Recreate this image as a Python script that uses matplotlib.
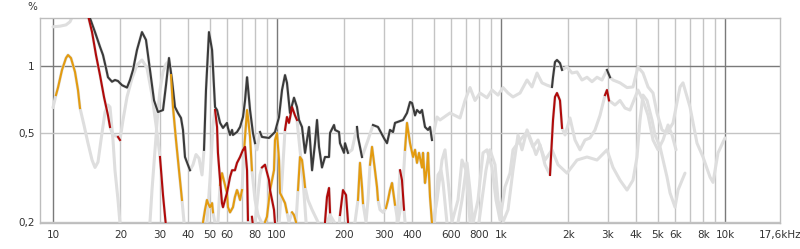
import numpy as np
import matplotlib
matplotlib.use("Agg")
import matplotlib.pyplot as plt

# ---------------- data ----------------
thd_f = [10.0, 10.75, 11.43, 11.91, 12.28, 13.2, 14.33, 14.63, 15.4, 16.21, 16.72, 17.24, 17.6, 18.34, 18.91,
         19.51, 20.32, 21.4, 22.07, 22.76, 23.71, 24.96, 26.01, 27.1, 28.25, 29.43, 30.98, 31.95, 32.95, 33.98,
         35.04, 36.14, 37.28, 38.05, 38.84, 40.89, 42.17, 43.5, 44.86, 46.27, 47.23, 48.2, 49.7, 51.3, 52.9,
         54.0, 55.7, 57.4, 59.8, 60.4, 61.7, 63.0, 63.6, 66.3, 68.4, 70.5, 72.0, 73.5, 74.2, 75.8, 78.1, 79.8,
         81.4, 84.0, 85.7, 92.1, 95.0, 97.97, 102.1, 105.3, 108.6, 110.8, 114.3, 119.1, 122.8, 125.4, 129.3,
         133.4, 139.0, 140.4, 143.4, 147.8, 150.9, 154.0, 158.8, 163.8, 170.7, 172.5, 179.7, 181.6, 189.2,
         191.1, 199.2, 201.2, 207.5, 216.2, 227.6, 229.9, 239.6, 254.9, 268.3, 282.4, 303.5, 309.8, 319.5,
         329.6, 336.4, 365.2, 380.5, 392.6, 400.8, 413.3, 421.7, 434.9, 444.0, 457.9, 472.2, 482.0, 492.0,
         518.0, 534.2, 592.1, 656.2, 690.7, 727.1, 765.5, 806.0, 865.9, 911.5, 969.6, 1021, 1075, 1131, 1216,
         1307, 1375, 1448, 1524, 1605, 1689, 1707, 1742, 1778, 1834, 1873, 1971, 2075, 2185, 2299, 2421, 2548,
         2683, 2824, 2973, 3066, 3162, 3398, 3652, 3884, 4089, 4305, 4534, 4772, 4971, 5233, 5509, 5861, 6298,
         6494, 6979, 7499, 7976, 8570, 8841, 9307, 10000]
thd_v = [1.50, 1.51, 1.53, 1.58, 1.69, 2.2, 1.88, 1.64, 1.42, 1.22, 1.12, 0.98, 0.89, 0.85, 0.865,
         0.856, 0.82, 0.80, 0.865, 0.96, 1.18, 1.42, 1.31, 0.96, 0.70, 0.621, 0.634, 0.82, 1.086, 0.865,
         0.654, 0.615, 0.584, 0.516, 0.39, 0.34, 0.36, 0.40, 0.385, 0.324, 0.42, 0.78, 1.42, 1.18, 0.654,
         0.634, 0.555, 0.527, 0.555, 0.527, 0.49, 0.516, 0.49, 0.505, 0.532, 0.59, 0.70, 0.89, 0.805, 0.634, 0.50, 0.45,
         0.42, 0.505, 0.48, 0.475, 0.49, 0.505, 0.59, 0.78, 0.91, 0.84, 0.615, 0.72, 0.654, 0.572, 0.532,
         0.407, 0.532, 0.465, 0.34, 0.45, 0.572, 0.433, 0.35, 0.39, 0.39, 0.50, 0.543, 0.516, 0.505,
         0.45, 0.407, 0.45, 0.407, 0.42, 0.532, 0.48, 0.39, 0.465, 0.543, 0.532, 0.465, 0.45, 0.516,
         0.505, 0.555, 0.572, 0.615, 0.689, 0.682, 0.60, 0.634, 0.615, 0.634, 0.532, 0.516, 0.532, 0.465,
         0.59, 0.572, 0.615, 0.584, 0.70, 0.80, 0.70, 0.756, 0.72, 0.78, 0.74, 0.80, 0.756, 0.726, 0.756,
         0.865, 0.805, 0.93, 0.84, 0.82, 0.805, 0.89, 1.042, 1.064, 1.03, 0.96, 0.99, 0.93, 0.94, 0.865, 0.89, 0.85,
         0.89, 0.865, 0.96, 0.89, 0.865, 0.84, 0.80, 0.805, 0.99, 0.93, 0.805, 0.756, 0.615, 0.516, 0.50, 0.555, 0.805,
         0.84, 0.654, 0.45, 0.39, 0.317, 0.30, 0.407, 0.475]
thd_on = [(14.33, 40.89), (47.23, 79.8), (84.0, 207.5), (227.6, 239.6), (268.3, 492.0),
          (1689, 1873), (2900, 3066)]

h2_f = [10.0, 10.31, 10.53, 10.97, 11.43, 11.67, 12.03, 12.54, 12.93, 13.2, 13.75, 14.33, 14.94, 15.4, 15.88,
        16.38, 17.07, 17.6, 17.97, 18.53, 18.91, 19.51, 19.91, 20.54, 26.56, 27.1, 27.67, 28.54, 29.43, 30.04,
        30.98, 31.95, 32.61, 33.63, 34.33, 35.41, 36.52, 37.66, 38.45, 39.25, 45.33, 46.75, 47.72, 48.7, 49.2,
        50.2, 51.3, 51.8, 52.9, 54.5, 55.7, 56.8, 57.4, 59.8, 60.4, 61.7, 63.6, 64.9, 66.3, 67.0, 68.4, 69.8,
        71.3, 73.5, 74.2, 75.8, 77.3, 79.8, 82.3, 85.7, 88.4, 90.2, 93.1, 96.96, 97.97, 100, 102.1, 103.1,
        105.3, 108.6, 110.8, 113.1, 116.7, 119.1, 121.6, 124.1, 126.7, 129.3, 132.0, 133.4, 137.5, 143.4,
        152.4, 158.8, 172.5, 181.6, 201.2, 223.0, 229.9, 234.7, 239.6, 242.1, 249.7, 254.9, 260.2, 265.6,
        273.8, 279.5, 282.4, 288.3, 297.3, 306.6, 313.0, 319.5, 326.2, 336.4, 346.9, 361.4, 372.8, 380.5,
        392.6, 404.9, 413.3, 421.7, 430.5, 444.0, 448.6, 457.9, 467.4, 472.2, 482.0, 492.0, 500, 523.4,
        539.8, 551.0, 574.1, 623.3, 669.8, 705.1, 727.1, 749.9, 789.4, 831.1, 865.9, 911.5, 950, 989.8,
        1042, 1097, 1131, 1216, 1307, 1389, 1463, 1572, 1689, 1797, 1971, 2185, 2421, 2683, 2973, 3162,
        3398, 3652, 3884, 4047, 4174, 4305, 4487, 4722, 4870, 5127, 5509, 5683, 5983, 6170, 6628]
h2_v = [0.65, 0.74, 0.80, 0.96, 1.086, 1.12, 1.086, 0.94, 0.78, 0.647, 0.543, 0.45, 0.378, 0.35, 0.37,
        0.465, 0.621, 0.668, 0.654, 0.465, 0.34, 0.25, 0.196, 0.15, 0.15, 0.199, 0.277, 0.42, 0.634, 0.78,
        0.94, 1.02, 1.042, 0.91, 0.654, 0.465, 0.34, 0.25, 0.199, 0.15, 0.15, 0.199, 0.226, 0.25, 0.242,
        0.232, 0.242, 0.22, 0.196, 0.199, 0.292, 0.33, 0.317, 0.269, 0.232, 0.22, 0.232, 0.258, 0.277, 0.269, 0.25, 0.277,
        0.42, 0.634, 0.59, 0.48, 0.34, 0.25, 0.214, 0.196, 0.199, 0.21, 0.277, 0.34, 0.465, 0.50, 0.378, 0.269,
        0.258, 0.242, 0.22, 0.199, 0.22, 0.214, 0.199, 0.277, 0.39, 0.378, 0.317, 0.286, 0.25, 0.226,
        0.199, 0.175, 0.214, 0.196, 0.166, 0.199, 0.25, 0.367, 0.286, 0.242, 0.199, 0.25, 0.36, 0.433,
        0.34, 0.286, 0.25, 0.226, 0.22, 0.23, 0.25, 0.277, 0.298, 0.238, 0.199, 0.25, 0.42, 0.555,
        0.45, 0.39, 0.42, 0.367, 0.407, 0.35, 0.407, 0.298, 0.35, 0.407, 0.258, 0.197, 0.175, 0.324,
        0.34, 0.30, 0.196, 0.166, 0.25, 0.367, 0.277, 0.196, 0.25, 0.407, 0.42, 0.35, 0.25, 0.203,
        0.286, 0.33, 0.42, 0.465, 0.505, 0.433, 0.465, 0.378, 0.42, 0.36, 0.33, 0.378, 0.39, 0.378, 0.42, 0.35,
        0.307, 0.277, 0.307, 0.39, 0.572, 0.74, 0.70, 0.572, 0.49, 0.433, 0.317, 0.269, 0.232, 0.277, 0.33]
h2_on = [(10.31, 13.2), (33.63, 37.66), (46.75, 51.8), (55.7, 69.8), (71.3, 77.3), (88.4, 110.8),
         (116.7, 121.6), (124.1, 133.4), (229.9, 242.1), (260.2, 282.4), (306.6, 336.4), (372.8, 492.0)]

h3_f = [10.0, 13.2, 14.04, 14.33, 14.94, 15.56, 16.21, 16.89, 17.6, 17.97, 18.53, 19.51, 19.91, 20.54, 21.4,
        22.53, 23.71, 24.96, 26.28, 27.67, 28.84, 30.04, 30.98, 31.95, 32.95, 46.75, 48.7, 50.2, 51.8, 52.9,
        54.0, 54.5, 55.7, 56.8, 57.4, 59.8, 61.7, 63.0, 64.9, 66.3, 68.4, 70.5, 72.0, 73.5, 74.2, 75.8, 77.3,
        78.9, 81.4, 84.0, 85.7, 88.4, 92.1, 93.1, 96.96, 97.97, 101.0, 105.3, 108.6, 110.8, 113.1, 114.3,
        116.7, 120.3, 122.8, 126.7, 130.7, 134.8, 140.4, 158.8, 163.8, 167.2, 170.7, 172.5, 176.1, 187.3,
        191.1, 197.1, 203.3, 207.5, 216.2, 336.4, 343.4, 354.2, 361.4, 369.0, 376.7, 482, 518.0, 545.4,
        562.3, 586.0, 604.4, 642.7, 669.8, 697.9, 727.1, 789.4, 857.0, 893.0, 940.2, 969.6, 1021, 1075,
        1131, 1191, 1241, 1307, 1361, 1433, 1494, 1572, 1655, 1707, 1742, 1778, 1834, 1873, 1931, 2032,
        2140, 2253, 2371, 2496, 2628, 2767, 2913, 2973, 3035, 3228, 3398, 3578, 3766, 4089, 4305, 4534,
        4772, 5022, 5287, 5567, 5801, 6044]
h3_v = [2.7, 2.3, 1.98, 1.69, 1.42, 1.12, 0.91, 0.726, 0.60, 0.532, 0.49, 0.48, 0.465, 0.572, 0.726,
        0.88, 1.01, 1.064, 0.98, 0.74, 0.543, 0.39, 0.263, 0.19, 0.15, 0.15, 0.199, 0.307, 0.543, 0.634,
        0.532, 0.407, 0.307, 0.242, 0.232, 0.269, 0.317, 0.34, 0.34, 0.367, 0.39, 0.42, 0.433, 0.34, 0.203, 0.175, 0.21,
        0.175, 0.238, 0.324, 0.35, 0.36, 0.307, 0.277, 0.226, 0.197, 0.166, 0.307, 0.516, 0.59, 0.555, 0.584,
        0.654, 0.60, 0.572, 0.42, 0.307, 0.199, 0.166, 0.166, 0.199, 0.258, 0.283, 0.22, 0.166, 0.166,
        0.214, 0.277, 0.263, 0.199, 0.166, 0.166, 0.199, 0.34, 0.307, 0.226, 0.175, 0.166, 0.25, 0.378,
        0.42, 0.277, 0.199, 0.25, 0.378, 0.34, 0.199, 0.185, 0.34, 0.42, 0.36, 0.25, 0.199, 0.226,
        0.34, 0.49, 0.42, 0.516, 0.465, 0.40, 0.442, 0.36, 0.324, 0.572, 0.726, 0.756, 0.70, 0.527, 0.49, 0.584,
        0.465, 0.42, 0.465, 0.475, 0.516, 0.60, 0.74, 0.78, 0.70, 0.668, 0.70, 0.647, 0.634, 0.78, 0.70, 0.60,
        0.465, 0.42, 0.465, 0.543, 0.49, 0.42]
h3_on = [(14.33, 17.97), (19.51, 19.91), (30.04, 31.95), (52.9, 74.2), (77.3, 78.9), (85.7, 97.97),
         (108.6, 122.8), (163.8, 172.5), (191.1, 207.5), (354.2, 369.0), (1655, 1873), (2913, 3035)]

x_ticks = [10, 20, 30, 40, 50, 60, 80, 100, 200, 300, 400, 600, 800, 1000, 2000, 3000, 4000, 5000,
           6000, 8000, 10000, 17600]
x_labels = ["10", "20", "30", "40", "50", "60", "80", "100", "200", "300", "400", "600", "800", "1k",
            "2k", "3k", "4k", "5k", "6k", "8k", "10k", "17,6kHz"]
y_ticks = [0.2, 0.5, 1]
y_labels = ["0,2", "0,5", "1"]

series = [
    (thd_f, thd_v, thd_on, "#3a3a3a"),
    (h2_f, h2_v, h2_on, "#e39b0f"),
    (h3_f, h3_v, h3_on, "#b00a0a"),
]

# ---------------- figure ----------------
fig = plt.figure(figsize=(8.0, 2.49), dpi=100)
ax = fig.add_axes([0.05, 0.1044, 0.925, 0.8233])
ax.set_xscale("log")
ax.set_yscale("log")
ax.set_xlim(8.75, 17600)
ax.set_ylim(0.197, 1.643)

# grid
for dec in [10, 100, 1000]:
    for m in range(2, 10):
        ax.axvline(dec * m, color="#c4c4c4", lw=1.0, zorder=1)
for dec in [10, 100, 1000, 10000]:
    ax.axvline(dec, color="#7a7a7a", lw=1.0, zorder=1)
ax.axhline(1.0, color="#7a7a7a", lw=1.0, zorder=1)
ax.axhline(0.5, color="#c4c4c4", lw=1.0, zorder=1)
ax.axhline(0.2, color="#c4c4c4", lw=1.0, zorder=1)

# gray (full) curves
for f, v, on, col in series:
    ax.plot(f, v, color="#dedede", lw=2.2, solid_capstyle="round", solid_joinstyle="round", zorder=2)

# colored segments
for f, v, on, col in series:
    fa = np.asarray(f, float)
    va = np.asarray(v, float)
    for lo, hi in on:
        m = (fa >= lo * 0.999) & (fa <= hi * 1.001)
        ax.plot(fa[m], va[m], color=col, lw=1.5, solid_joinstyle="round", zorder=3)

for s in ax.spines.values():
    s.set_color("#bdbdbd")
    s.set_linewidth(1.0)

ax.xaxis.set_minor_locator(matplotlib.ticker.NullLocator())
ax.yaxis.set_minor_locator(matplotlib.ticker.NullLocator())
ax.set_xticks(x_ticks)
ax.set_xticklabels(x_labels)
ax.set_yticks(y_ticks)
ax.set_yticklabels(y_labels)
ax.tick_params(axis="both", length=0, labelsize=7.5, colors="#333333")
ax.tick_params(axis="x", pad=5)
ax.tick_params(axis="y", pad=4)

fig.text(0.041, 0.972, "%", fontsize=7.5, color="#333333", ha="center", va="center")

fig.savefig("out.png", dpi=100)
